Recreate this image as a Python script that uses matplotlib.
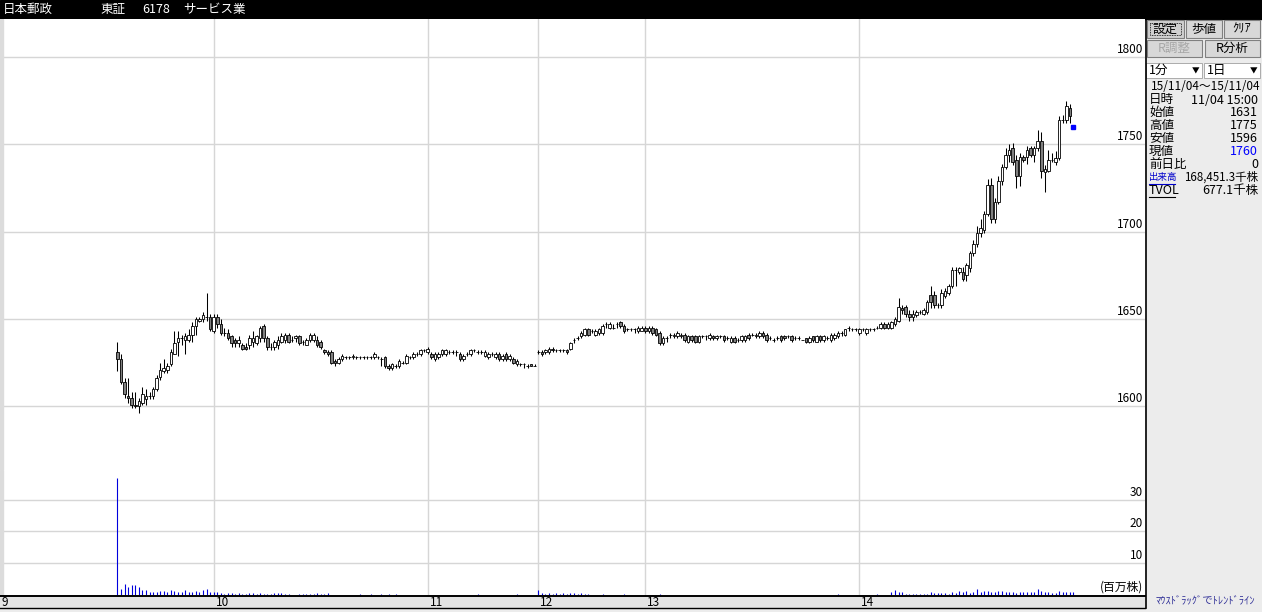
import matplotlib
matplotlib.use("Agg")
import matplotlib.pyplot as plt
from matplotlib.patches import Rectangle
from matplotlib.transforms import blended_transform_factory, offset_copy

plt.rcParams['font.family'] = ['Noto Sans CJK JP', 'DejaVu Sans']

# ---- data: 1-minute bars, slot = minutes from 9:00 with lunch break removed ----
AM_START = 33   # 9:33 first trade
PM_START = 151  # 12:30

am_open = [1631, 1627, 1614, 1606, 1605, 1601, 1600, 1602, 1604, 1606,
           1606, 1610, 1617, 1620, 1621, 1624, 1630, 1637, 1639, 1638,
           1638, 1641, 1646, 1649, 1650, 1651, 1651, 1643, 1651, 1647,
           1642, 1642, 1640, 1638, 1636, 1635, 1634, 1635, 1637, 1636,
           1639, 1646, 1639, 1634, 1634, 1635, 1637, 1638, 1641, 1638,
           1639, 1640, 1637, 1635, 1638, 1638, 1638,
           1637, 1632, 1631, 1631, 1626, 1625, 1627, 1628, 1628, 1628,
           1628, 1628, 1628, 1628, 1628, 1628, 1628, 1627, 1628, 1623,
           1622, 1623, 1623, 1625, 1625, 1628, 1628, 1630, 1630, 1632,
           1631, 1630, 1627, 1628, 1630, 1630, 1631, 1631, 1631, 1630,
           1627, 1630, 1630, 1632, 1631, 1631, 1629, 1628, 1630, 1628,
           1630, 1627, 1630, 1627, 1627, 1624, 1624, 1624, 1623, 1624, 1623]
am_high = [1637, 1630, 1616, 1616, 1608, 1608, 1605, 1611, 1610, 1608,
           1611, 1618, 1625, 1627, 1625, 1633, 1643, 1643, 1641, 1642,
           1644, 1648, 1651, 1651, 1654, 1665, 1653, 1653, 1653, 1650,
           1645, 1644, 1641, 1639, 1640, 1636, 1636, 1641, 1643, 1641,
           1646, 1647, 1640, 1636, 1638, 1640, 1642, 1642, 1642, 1640,
           1641, 1641, 1638, 1639, 1642, 1642, 1640,
           1638, 1633, 1632, 1632, 1627, 1628, 1630, 1629, 1629, 1630,
           1629, 1629, 1629, 1629, 1629, 1631, 1629, 1628, 1629, 1624,
           1625, 1624, 1627, 1626, 1630, 1629, 1631, 1631, 1633, 1633,
           1634, 1631, 1631, 1631, 1633, 1633, 1632, 1632, 1632, 1631,
           1630, 1631, 1633, 1633, 1632, 1632, 1632, 1631, 1631, 1631,
           1631, 1630, 1631, 1630, 1628, 1627, 1625, 1625, 1624, 1624, 1624]
am_low = [1620, 1613, 1605, 1602, 1599, 1599, 1596, 1601, 1601, 1604,
          1604, 1609, 1615, 1619, 1619, 1623, 1630, 1629, 1635, 1630,
          1637, 1637, 1641, 1648, 1648, 1649, 1643, 1642, 1645, 1641,
          1640, 1638, 1634, 1634, 1634, 1632, 1632, 1633, 1634, 1635,
          1637, 1637, 1632, 1632, 1632, 1633, 1636, 1636, 1636, 1637,
          1637, 1635, 1635, 1635, 1637, 1637, 1634,
          1633, 1630, 1629, 1624, 1623, 1624, 1626, 1627, 1627, 1627,
          1627, 1627, 1627, 1627, 1627, 1627, 1627, 1623, 1622, 1621,
          1621, 1622, 1622, 1624, 1624, 1627, 1627, 1629, 1629, 1631,
          1630, 1627, 1626, 1627, 1629, 1629, 1630, 1630, 1629, 1626,
          1626, 1629, 1629, 1631, 1630, 1630, 1628, 1627, 1629, 1627,
          1626, 1626, 1626, 1626, 1624, 1623, 1623, 1622, 1622, 1623, 1623]
am_close = [1627, 1614, 1607, 1605, 1601, 1600, 1603, 1607, 1606, 1606,
            1610, 1616, 1621, 1622, 1623, 1631, 1636, 1639, 1639, 1640,
            1641, 1646, 1650, 1650, 1652, 1651, 1644, 1651, 1647, 1642,
            1642, 1639, 1636, 1636, 1638, 1633, 1633, 1639, 1639, 1640,
            1645, 1639, 1634, 1634, 1637, 1638, 1640, 1641, 1637, 1638,
            1640, 1636, 1637, 1638, 1641, 1641, 1635,
            1634, 1631, 1630, 1625, 1625, 1627, 1629, 1628, 1628, 1629,
            1628, 1628, 1628, 1628, 1628, 1630, 1628, 1627, 1623, 1622,
            1624, 1623, 1626, 1625, 1629, 1628, 1630, 1630, 1632, 1632,
            1633, 1628, 1630, 1630, 1632, 1632, 1631, 1631, 1631, 1627,
            1629, 1630, 1632, 1632, 1631, 1631, 1631, 1630, 1630, 1630,
            1627, 1629, 1627, 1629, 1625, 1626, 1624, 1624, 1623, 1623, 1623]

pm_open = [1631, 1631, 1631, 1631, 1633, 1632, 1632, 1632, 1632, 1633,
           1638, 1639, 1640, 1641, 1644, 1643, 1641, 1642, 1642, 1647,
           1645, 1645, 1647, 1648, 1646, 1644, 1644, 1644, 1643, 1643,
           1645, 1643, 1645, 1644, 1642, 1636, 1639, 1641, 1640, 1640,
           1640, 1641, 1637, 1640, 1640, 1637, 1640, 1640, 1639, 1640,
           1639, 1640, 1640, 1639, 1637, 1639, 1638, 1638, 1638, 1641,
           1641, 1640, 1640, 1642, 1641, 1639, 1638, 1639, 1640, 1640,
           1640, 1640, 1639, 1639, 1638, 1639, 1637, 1640, 1637, 1640,
           1638, 1639, 1638, 1639, 1640, 1642, 1641, 1645,
           1644, 1644, 1642, 1644, 1642, 1644, 1644, 1645, 1645, 1647, 1645, 1645,
           1647, 1649, 1656, 1657, 1653, 1651, 1652, 1654, 1653, 1654,
           1664, 1664, 1658, 1658, 1663, 1665, 1669, 1678, 1677, 1677,
           1675, 1679, 1688, 1693, 1699, 1701, 1710, 1727, 1707, 1717,
           1729, 1737, 1744, 1748, 1741, 1732, 1743, 1743, 1748, 1744,
           1748, 1752, 1734, 1735, 1741, 1740, 1742, 1764, 1764, 1771]
pm_high = [1632, 1632, 1633, 1634, 1634, 1633, 1633, 1633, 1633, 1637,
           1639, 1640, 1643, 1645, 1645, 1644, 1644, 1645, 1647, 1648,
           1648, 1647, 1648, 1649, 1647, 1645, 1645, 1645, 1646, 1646,
           1646, 1646, 1646, 1645, 1643, 1640, 1640, 1642, 1642, 1643,
           1642, 1642, 1641, 1641, 1641, 1641, 1641, 1641, 1642, 1641,
           1641, 1641, 1641, 1640, 1640, 1640, 1639, 1641, 1641, 1642,
           1642, 1642, 1643, 1643, 1642, 1640, 1639, 1640, 1641, 1641,
           1641, 1641, 1640, 1640, 1638, 1639, 1640, 1640, 1641, 1641,
           1641, 1640, 1642, 1642, 1643, 1643, 1644, 1646,
           1645, 1645, 1645, 1645, 1645, 1645, 1645, 1646, 1648, 1648, 1648, 1649,
           1651, 1662, 1658, 1658, 1655, 1655, 1655, 1655, 1656, 1661,
           1669, 1666, 1659, 1667, 1668, 1670, 1680, 1680, 1680, 1680,
           1682, 1689, 1695, 1703, 1707, 1712, 1730, 1731, 1719, 1732,
           1739, 1748, 1750, 1751, 1744, 1745, 1744, 1749, 1749, 1749,
           1758, 1757, 1738, 1747, 1745, 1746, 1766, 1767, 1775, 1773]
pm_low = [1630, 1629, 1630, 1630, 1631, 1631, 1631, 1631, 1630, 1632,
          1636, 1638, 1639, 1640, 1640, 1642, 1640, 1641, 1641, 1645,
          1644, 1644, 1645, 1645, 1642, 1643, 1643, 1642, 1642, 1643,
          1642, 1642, 1641, 1640, 1635, 1635, 1637, 1639, 1639, 1639,
          1639, 1637, 1636, 1637, 1636, 1636, 1639, 1638, 1638, 1638,
          1638, 1639, 1637, 1638, 1636, 1636, 1637, 1637, 1637, 1638,
          1640, 1639, 1639, 1639, 1637, 1638, 1637, 1638, 1637, 1638,
          1639, 1637, 1638, 1638, 1638, 1636, 1636, 1637, 1637, 1637,
          1637, 1638, 1637, 1638, 1639, 1640, 1640, 1643,
          1643, 1643, 1641, 1643, 1641, 1643, 1643, 1644, 1644, 1644, 1644, 1644,
          1646, 1648, 1653, 1651, 1649, 1649, 1651, 1653, 1652, 1653,
          1656, 1656, 1656, 1656, 1662, 1664, 1668, 1669, 1676, 1672,
          1672, 1677, 1686, 1691, 1697, 1699, 1709, 1705, 1705, 1716,
          1727, 1736, 1740, 1738, 1725, 1726, 1740, 1739, 1743, 1740,
          1746, 1731, 1723, 1734, 1740, 1738, 1741, 1762, 1762, 1762]
pm_close = [1631, 1630, 1632, 1633, 1632, 1632, 1632, 1632, 1631, 1636,
            1638, 1639, 1642, 1644, 1641, 1643, 1643, 1644, 1646, 1647,
            1647, 1645, 1647, 1646, 1643, 1644, 1644, 1644, 1645, 1645,
            1643, 1645, 1642, 1641, 1636, 1639, 1639, 1641, 1641, 1642,
            1641, 1638, 1640, 1638, 1637, 1640, 1640, 1640, 1641, 1639,
            1640, 1640, 1638, 1639, 1639, 1637, 1638, 1640, 1640, 1639,
            1641, 1641, 1642, 1640, 1638, 1639, 1638, 1639, 1638, 1639,
            1640, 1638, 1639, 1639, 1638, 1637, 1639, 1638, 1640, 1638,
            1640, 1639, 1641, 1641, 1642, 1642, 1644, 1645,
            1644, 1644, 1644, 1644, 1644, 1644, 1644, 1645, 1647, 1645, 1647, 1648,
            1650, 1657, 1655, 1653, 1651, 1653, 1654, 1654, 1655, 1660,
            1660, 1658, 1658, 1665, 1666, 1669, 1678, 1678, 1679, 1673,
            1681, 1688, 1693, 1699, 1702, 1710, 1727, 1707, 1717, 1729,
            1737, 1744, 1747, 1740, 1732, 1743, 1741, 1747, 1744, 1748,
            1752, 1735, 1736, 1741, 1741, 1742, 1764, 1764, 1772, 1766]

close_slot = 301     # 15:00 closing print
close_price = 1760

# volume, million shares
vol_am = [36.7, 2.0, 3.6, 2.4, 3.3, 3.1, 2.4, 1.5, 1.5, 0.8,
          0.8, 0.8, 1.2, 1.2, 0.8, 1.5, 1.4, 0.8, 0.8, 1.5,
          0.8, 0.8, 1.3, 1.0, 1.7, 1.9, 1.1, 0.8, 0.8, 0.6,
          0.3, 0.6, 0.6, 0.4, 0.5, 0.4, 0.4, 0.6, 0.6, 0.4,
          0.5, 0.4, 0.4, 0.2, 0.5, 0.5, 0.5, 0.4, 0.2, 0.1,
          0.1, 0.4, 0.2, 0.4, 0.4, 0.2, 0.6, 0.4, 0.2, 0.6,
          0.1, 0.1, 0.1, 0.1, 0.1, 0.1, 0.1, 0.1, 0.2, 0.1,
          0.1, 0.2, 0.1, 0.1, 0.2, 0.1, 0.2, 0.1, 0.2, 0.1,
          0.1, 0.1, 0.1, 0.1, 0.1, 0.1, 0.1, 0.1, 0.1, 0.1,
          0.1, 0.1, 0.1, 0.1, 0.1, 0.1, 0.1, 0.1, 0.1, 0.1,
          0.1, 0.2, 0.1, 0.1, 0.1, 0.1, 0.1, 0.1, 0.1, 0.1,
          0.1, 0.1, 0.2, 0.1, 0.1, 0.1, 0.1, 0.1]
vol_pm = [1.7, 0.5, 0.3, 0.5, 0.3, 0.5, 0.2, 0.5, 0.3, 0.5,
          0.5, 0.4, 0.5, 0.3, 0.2, 0.1, 0.1, 0.1, 0.2, 0.1,
          0.1, 0.1, 0.1, 0.1, 0.2, 0.1, 0.1, 0.1, 0.1, 0.1,
          0.1, 0.1, 0.1, 0.1, 0.2, 0.1, 0.1, 0.1, 0.1, 0.1,
          0.1, 0.1, 0.1, 0.1, 0.1, 0.1, 0.1, 0.1, 0.1, 0.1,
          0.1, 0.1, 0.1, 0.1, 0.1, 0.1, 0.1, 0.1, 0.1, 0.1,
          0.1, 0.1, 0.1, 0.1, 0.1, 0.1, 0.1, 0.1, 0.1, 0.1,
          0.1, 0.1, 0.1, 0.1, 0.1, 0.1, 0.1, 0.1, 0.1, 0.1,
          0.1, 0.1, 0.1, 0.1, 0.2, 0.1, 0.1, 0.1, 0.1, 0.1,
          0.1, 0.1, 0.1, 0.1, 0.1, 0.2, 0.1, 0.1, 0.1, 1.1,
          1.7, 0.8, 0.8, 0.4, 0.2, 0.3, 0.2, 0.4, 0.2, 0.4,
          1.0, 0.6, 0.6, 0.6, 0.6, 0.3, 1.0, 0.6, 1.2, 0.8,
          1.2, 0.6, 1.0, 1.9, 1.0, 1.2, 1.2, 0.8, 0.8, 1.2,
          1.2, 1.0, 1.0, 1.0, 0.6, 0.8, 0.8, 0.8, 0.8, 1.0,
          1.9, 1.2, 0.8, 0.8, 0.6, 0.6, 1.2, 0.8, 0.8, 0.8, 0.8]

hour_slots = [0, 60, 120, 151, 181, 241]
hour_labels = ['9', '10', '11', '12', '13', '14']
price_ticks = [1600, 1650, 1700, 1750, 1800]
vol_ticks = [10, 20, 30]

title_items = [('日本郵政', 3), ('東証', 100), ('6178', 142), ('サービス業', 183)]
info_rows = [('日時', '11/04 15:00'), ('始値', '1631'), ('高値', '1775'),
             ('安値', '1596'), ('現値', '1760'), ('前日比', '0'),
             ('出来高', '168,451.3千株'), ('TVOL', '677.1千株')]

# ---- layout (pixels) ----
W, H = 1262, 612
PX_PER_SLOT = 3.567
CHART_R = 1145
TOP, MID, BASE = 19, 470, 595

fig = plt.figure(figsize=(W / 100, H / 100), dpi=100)


def px_axes(x0, y0, x1, y1):
    return fig.add_axes([x0 / W, 1 - y1 / H, (x1 - x0) / W, (y1 - y0) / H])


# background / frame
bg = px_axes(0, 0, W, H)
bg.set_xlim(0, W)
bg.set_ylim(H, 0)
bg.axis('off')
bg.add_patch(Rectangle((0, 0), W, H, color='#ECECEC'))
bg.add_patch(Rectangle((0, 0), W, TOP, color='black'))
bg.add_patch(Rectangle((0, BASE), CHART_R, 13, color='#E4E4E4'))
bg.plot([0, CHART_R], [BASE + 0.5, BASE + 0.5], color='black', lw=1.4)
bg.plot([0, CHART_R], [608, 608], color='black', lw=1.0)
bg.plot([CHART_R + 0.5, CHART_R + 0.5], [TOP, 608], color='black', lw=1.2)
for txt, x in title_items:
    bg.text(x, 9.5, txt, color='white', fontsize=9, va='center', ha='left')

# price panel
ax = px_axes(0, TOP, CHART_R, MID)
xlim = (0.3 / PX_PER_SLOT, (CHART_R + 0.3) / PX_PER_SLOT)
ax.set_xlim(*xlim)
ax.set_ylim(1563.5, 1821.8)

slots = list(range(AM_START, AM_START + len(am_open))) + \
    list(range(PM_START, PM_START + len(pm_open)))
opens = am_open + pm_open
highs = am_high + pm_high
lows = am_low + pm_low
closes = am_close + pm_close

ax.vlines(slots, lows, highs, color='black', lw=0.75, zorder=2)
bottoms = [min(o, c) for o, c in zip(opens, closes)]
heights = [abs(c - o) for o, c in zip(opens, closes)]
faces = ['#808080' if c < o else 'white' for o, c in zip(opens, closes)]
ax.bar(slots, heights, bottom=bottoms, width=0.72, color=faces,
       edgecolor='black', linewidth=0.6, zorder=3)
ax.plot([close_slot], [close_price], marker='s', ms=2.6, color='#0000FF',
        ls='none', zorder=4)

# volume panel
axv = px_axes(0, MID, CHART_R, BASE)
axv.set_xlim(*xlim)
axv.set_ylim(0, 39.3)
vslots = list(range(AM_START, AM_START + len(vol_am))) + \
    list(range(PM_START, PM_START + len(vol_pm)))
axv.vlines(vslots, 0, vol_am + vol_pm, color='#0000DD', lw=0.8, zorder=2)

for a, yt in ((ax, price_ticks), (axv, vol_ticks)):
    a.set_facecolor('white')
    a.set_xticks(hour_slots[1:])
    a.set_yticks(yt)
    a.grid(True, color='#D6D6D6', lw=1.0, zorder=0)
    a.set_axisbelow(True)
    a.tick_params(length=0, labelbottom=False, labelleft=False)
    for s in a.spines.values():
        s.set_visible(False)
    # thin gray strip along the left edge
    a.add_patch(Rectangle((0, 0), 3 / CHART_R, 1, transform=a.transAxes,
                          color='#DCDCDC', zorder=1))
    tr = offset_copy(blended_transform_factory(a.transAxes, a.transData),
                     fig=fig, x=-2, y=1, units='dots')
    for v in yt:
        a.text(1.0, v, str(v), transform=tr, ha='right', va='bottom', fontsize=8.5)

axv.text(1.0, 0, '(百万株)', transform=offset_copy(axv.transAxes, fig=fig, x=-2, y=1, units='dots'),
         ha='right', va='bottom', fontsize=8.5)

# hour labels under the volume panel
hx = offset_copy(blended_transform_factory(axv.transData, axv.transAxes),
                 fig=fig, x=2, y=-1.5, units='dots')
for s, lbl in zip(hour_slots, hour_labels):
    axv.text(max(s, xlim[0]), 0, lbl, transform=hx, ha='left', va='top', fontsize=8.5)


# ---- right side panel ----
def button(x0, y0, x1, y1, label, color='black', pressed=False):
    bg.add_patch(Rectangle((x0, y0), x1 - x0, y1 - y0, facecolor='#D8D8D8' if not pressed else '#D0D0D0',
                           edgecolor='#808080', lw=0.8))
    if pressed:
        bg.add_patch(Rectangle((x0 + 3, y0 + 3), x1 - x0 - 6, y1 - y0 - 6, fill=False,
                               edgecolor='black', lw=0.6, ls=(0, (1, 1))))
    bg.text((x0 + x1) / 2, (y0 + y1) / 2, label, color=color, fontsize=9,
            ha='center', va='center')


button(1147, 20, 1184, 38, '設定', pressed=True)
button(1186, 20, 1222, 38, '歩値')
button(1224, 20, 1260, 38, 'ｸﾘｱ')
button(1147, 40, 1202, 57, 'R調整', color='#A8A8A8')
button(1205, 40, 1260, 57, 'R分析')

for x0, x1, lbl in ((1146, 1202, '1分'), (1204, 1260, '1日')):
    bg.add_patch(Rectangle((x0, 63), x1 - x0, 15, facecolor='white', edgecolor='#A0A0A0', lw=0.6))
    bg.text(x0 + 3, 70.5, lbl, fontsize=9, ha='left', va='center')
    bg.text(x1 - 6, 71.5, '▼', fontsize=5.5, ha='center', va='center')

bg.text(1151, 87, '15/11/04～15/11/04', fontsize=8.5, ha='left', va='center')
for i, (lbl, val) in enumerate(info_rows):
    y = 100 + i * 12.9
    is_vol = lbl == '出来高'
    lcol = '#0000CC' if is_vol else 'black'
    bg.text(1149, y, lbl, fontsize=6.8 if is_vol else 9, ha='left', va='center', color=lcol)
    vcol = '#0000FF' if lbl == '現値' else 'black'
    bg.text(1258, y, val, fontsize=8.3 if is_vol else 9, ha='right', va='center', color=vcol)
    if lbl in ('出来高', 'TVOL'):
        bg.plot([1149, 1175], [y + 6.5, y + 6.5], color=lcol, lw=0.8)

bg.text(1205, 601, 'ﾏｳｽﾄﾞﾗｯｸﾞでﾄﾚﾝﾄﾞﾗｲﾝ', fontsize=7.5, color='#333399',
        ha='center', va='center')

fig.savefig('out.png', dpi=100)
